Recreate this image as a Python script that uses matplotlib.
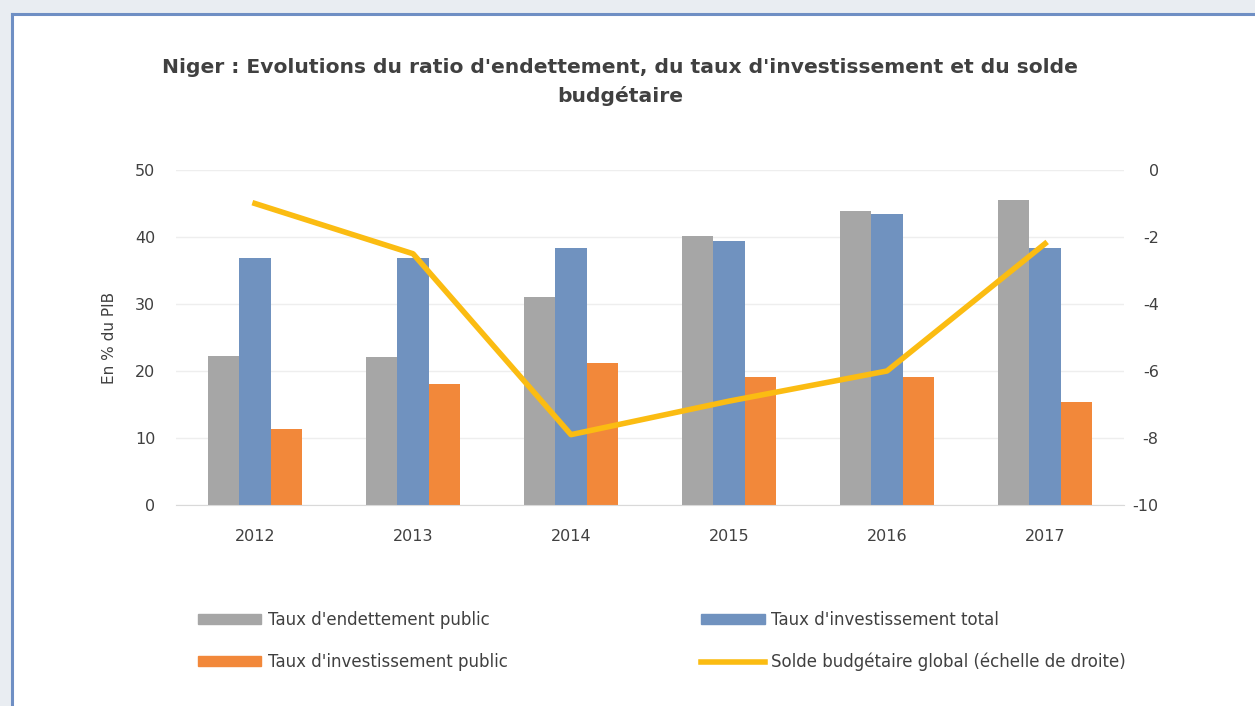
import matplotlib
matplotlib.use("Agg")
import matplotlib.pyplot as plt
import numpy as np
from matplotlib.patches import Rectangle
from matplotlib.lines import Line2D

plt.rcParams["font.family"] = ["DejaVu Sans"]
plt.rcParams["axes.unicode_minus"] = False

# Data
years = ["2012", "2013", "2014", "2015", "2016", "2017"]
endettement_public = [22.3, 22.1, 31.0, 40.1, 43.9, 45.5]
investissement_total = [36.9, 36.9, 38.4, 39.4, 43.4, 38.4]
investissement_public = [11.3, 18.0, 21.2, 19.1, 19.1, 15.4]
solde_budgetaire = [-1.0, -2.5, -7.9, -6.9, -6.0, -2.2]

left_ticks = [0, 10, 20, 30, 40, 50]
right_ticks = [0, -2, -4, -6, -8, -10]

title = "Niger : Evolutions du ratio d'endettement, du taux d'investissement et du solde\nbudgétaire"
ylabel = "En % du PIB"
legend_labels = [
    "Taux d'endettement public",
    "Taux d'investissement total",
    "Taux d'investissement public",
    "Solde budgétaire global (échelle de droite)",
]

c_grey = "#a6a6a6"
c_blue = "#7092bf"
c_orange = "#f2883a"
c_yellow = "#fbbc12"
c_text = "#404040"

W, H = 1255, 706
fig = plt.figure(figsize=(W / 100, H / 100), dpi=100, facecolor="#e9edf2")

# White panel with a blue frame on the top and left edges
fig.patches.append(Rectangle((12 / W, 0), 1 - 12 / W, 1 - 14 / H, transform=fig.transFigure,
                             facecolor="white", edgecolor="none", zorder=-10))
fig.lines.append(Line2D([12 / W, 1], [1 - 14 / H, 1 - 14 / H], transform=fig.transFigure,
                        color="#6f8fc4", lw=2.2, zorder=-9))
fig.lines.append(Line2D([12 / W, 12 / W], [0, 1 - 14 / H], transform=fig.transFigure,
                        color="#6f8fc4", lw=2.2, zorder=-9))

ax = fig.add_axes([176 / W, 1 - 505 / H, (1124 - 176) / W, (505 - 170) / H])
ax.set_facecolor("none")

x = np.arange(len(years))
bw = 0.2
ax.bar(x - bw, endettement_public, bw, color=c_grey, zorder=2, label=legend_labels[0])
ax.bar(x, investissement_total, bw, color=c_blue, zorder=2, label=legend_labels[1])
ax.bar(x + bw, investissement_public, bw, color=c_orange, zorder=2, label=legend_labels[2])

ax.set_xlim(-0.5, len(years) - 0.5)
ax.set_ylim(0, 50)
ax.set_yticks(left_ticks)
ax.set_xticks(x)
ax.set_xticklabels(years)
ax.tick_params(axis="both", length=0, labelsize=11.5, colors=c_text)
ax.tick_params(axis="x", pad=17)
ax.tick_params(axis="y", pad=15)
ax.grid(axis="y", color="#eeeeee", lw=1, zorder=0)
for s in ["top", "right", "left"]:
    ax.spines[s].set_visible(False)
ax.spines["bottom"].set_color("#d9d9d9")
ax.set_ylabel(ylabel, fontsize=11, color=c_text, labelpad=13)

ax2 = ax.twinx()
ax2.plot(x, solde_budgetaire, color=c_yellow, lw=4, solid_joinstyle="round", zorder=3,
         label=legend_labels[3])
ax2.set_ylim(-10, 0)
ax2.set_yticks(right_ticks)
ax2.tick_params(axis="y", length=0, labelsize=11.5, colors=c_text, pad=25)
for lbl in ax2.get_yticklabels():
    lbl.set_horizontalalignment("right")
for s in ax2.spines.values():
    s.set_visible(False)

fig.text(620 / W, 1 - 82 / H, title, ha="center", va="center", fontsize=14.6,
         fontweight="bold", color=c_text, linespacing=1.55)

handles = [
    Rectangle((0, 0), 1, 1, color=c_grey),
    Rectangle((0, 0), 1, 1, color=c_blue),
    Rectangle((0, 0), 1, 1, color=c_orange),
    Line2D([0], [0], color=c_yellow, lw=4),
]
order = [0, 2, 1, 3]
leg = fig.legend([handles[i] for i in order], [legend_labels[i] for i in order], ncol=2,
                 loc="center left", bbox_to_anchor=(183 / W, 1 - 641 / H),
                 frameon=False, fontsize=12, handlelength=3.8, handleheight=0.6,
                 handletextpad=0.4, columnspacing=11.6, labelspacing=1.45)
for t in leg.get_texts():
    t.set_color(c_text)

fig.savefig("out.png", dpi=100, facecolor=fig.get_facecolor())
